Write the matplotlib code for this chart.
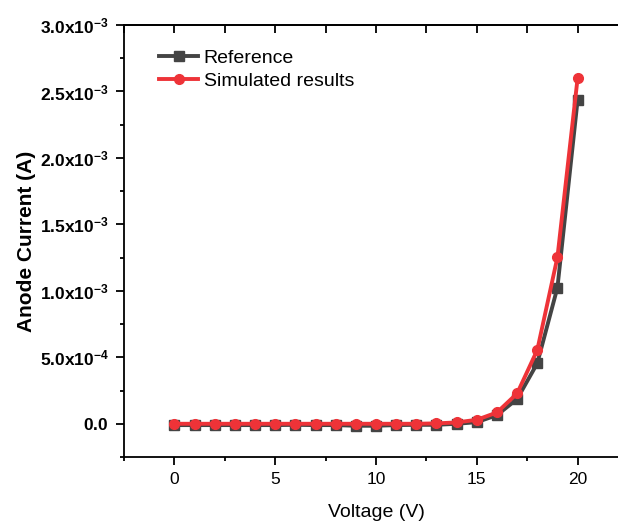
import numpy as np
import matplotlib
matplotlib.use("Agg")
import matplotlib.pyplot as plt
from matplotlib.ticker import MultipleLocator, FuncFormatter

plt.rcParams['font.family'] = ['Liberation Sans', 'DejaVu Sans']
plt.rcParams['mathtext.fontset'] = 'custom'
plt.rcParams['mathtext.rm'] = 'Liberation Sans'
plt.rcParams['mathtext.bf'] = 'Liberation Sans:bold'

# data
voltage = list(range(0, 21))
reference = [-1e-5, -1e-5, -1e-5, -1e-5, -1e-5, -1e-5, -8e-6, -1e-5, -1e-5, -1.5e-5,
             -1.5e-5, -1e-5, -8e-6, -8e-6, 0.0, 1.2e-5, 6.5e-5, 1.86e-4, 4.55e-4,
             1.025e-3, 2.435e-3]
simulated = [0.0, 0.0, 0.0, 0.0, 0.0, 0.0, 0.0, 0.0, 0.0, 0.0,
             0.0, 0.0, 0.0, 3e-6, 1e-5, 3e-5, 8.5e-5, 2.28e-4, 5.55e-4,
             1.253e-3, 2.60e-3]

fig = plt.figure(figsize=(6.18, 5.21), dpi=100)
ax = fig.add_axes([124/618, 64/521, 504/618, 432/521])

ax.plot(voltage, reference, color='#444444', lw=2.8, marker='s', ms=6.5,
        label='Reference')
ax.plot(voltage, simulated, color='#EE3338', lw=2.8, marker='o', ms=7,
        label='Simulated results')

ax.set_xlim(-2.5, 22.5)
ax.set_ylim(-2.5e-4, 3.0e-3)
ax.xaxis.set_major_locator(MultipleLocator(5))
ax.xaxis.set_minor_locator(MultipleLocator(2.5))
ax.yaxis.set_major_locator(MultipleLocator(5e-4))
ax.yaxis.set_minor_locator(MultipleLocator(2.5e-4))

def yfmt(v, pos):
    if abs(v) < 1e-12:
        return r'$\mathbf{0.0}$'
    exp = int(np.floor(np.log10(abs(v))))
    mant = v / 10**exp
    return r'$\mathbf{%.1fx10^{%d}}$' % (mant, exp)

ax.yaxis.set_major_formatter(FuncFormatter(yfmt))

for s in ['left', 'bottom', 'top', 'right']:
    ax.spines[s].set_linewidth(1.3)

ax.tick_params(which='major', direction='out', length=6, width=1.3)
ax.tick_params(which='minor', direction='out', length=3, width=1.3)
ax.tick_params(axis='x', which='major', labelsize=12.5, pad=5)
ax.tick_params(axis='y', which='major', labelsize=12.5, pad=5)

top = ax.secondary_xaxis('top')
top.xaxis.set_major_locator(MultipleLocator(2.5))
top.tick_params(direction='in', length=6, width=1.3, labeltop=False)
top.spines['top'].set_linewidth(1.3)

ax.set_xlabel('Voltage (V)', fontsize=14, labelpad=12)
ax.set_ylabel('Anode Current (A)', fontsize=15, fontweight='bold', labelpad=3)

ax.legend(loc='upper left', frameon=False, fontsize=14, handlelength=2.0,
          handletextpad=0.3, labelspacing=0.3, bbox_to_anchor=(0.035, 0.985))

fig.savefig('out.png', dpi=100)
